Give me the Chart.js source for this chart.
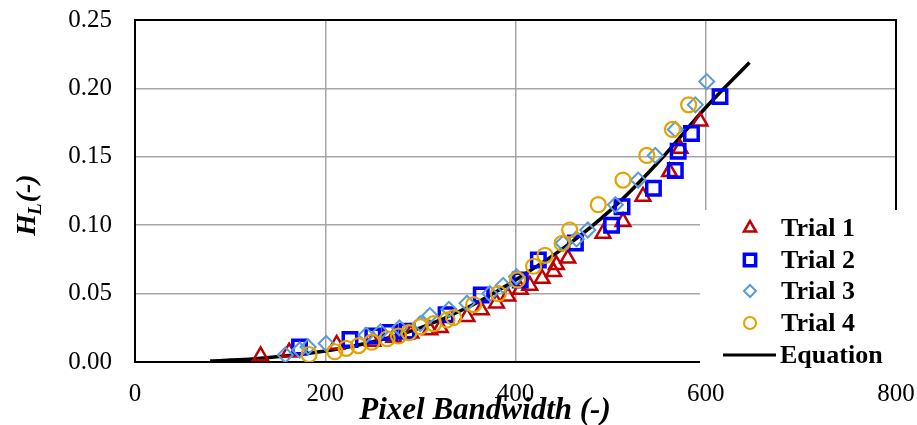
<!DOCTYPE html>
<html>
<head>
<meta charset="utf-8">
<script src="https://cdn.jsdelivr.net/npm/chart.js@4/dist/chart.umd.min.js"></script>
<style>
  html, body { margin: 0; padding: 0; background: #fff; }
  #wrap { width: 917px; height: 425px; position: relative; }
</style>
</head>
<body>
<div id="wrap"><canvas id="chart" width="917" height="425"></canvas></div>
<script>
// values
const xTicks = [0, 200, 400, 600, 800];
const yTicks = [0, 0.05, 0.10, 0.15, 0.20, 0.25];

const trial1X = [132, 162, 212, 250, 272, 290, 310, 321, 349, 364, 380, 392, 405, 415, 428, 440, 443, 455, 492, 513, 534, 562, 573, 594];
const trial1Y = [0.0044, 0.0072, 0.0128, 0.0150, 0.0180, 0.0210, 0.0234, 0.0250, 0.0330, 0.0380, 0.0430, 0.0480, 0.0530, 0.0560, 0.0610, 0.0660, 0.0710, 0.0758, 0.0940, 0.1026, 0.1210, 0.1390, 0.1560, 0.1760];

const trial2X = [173, 226, 250, 268, 286, 327, 364, 405, 424, 463, 501, 512, 545, 568, 571, 585, 615];
const trial2Y = [0.0110, 0.0165, 0.0190, 0.0215, 0.0225, 0.0345, 0.0490, 0.0600, 0.0746, 0.0870, 0.1000, 0.1135, 0.1270, 0.1400, 0.1540, 0.1670, 0.1940];

const trial3X = [158, 173, 182, 201, 243, 258, 278, 300, 310, 330, 349, 373, 387, 401, 450, 464, 476, 505, 529, 547, 568, 589, 601];
const trial3Y = [0.0051, 0.0088, 0.0110, 0.0135, 0.0197, 0.0220, 0.0250, 0.0280, 0.0340, 0.0385, 0.0430, 0.0500, 0.0560, 0.0624, 0.0868, 0.0900, 0.0965, 0.1150, 0.1330, 0.1510, 0.1700, 0.1880, 0.2050];

const trial4X = [183, 210, 222, 235, 249, 265, 277, 288, 300, 314, 328, 335, 356, 382, 402, 419, 431, 449, 457, 487, 513, 538, 565, 582];
const trial4Y = [0.0055, 0.0075, 0.0100, 0.0120, 0.0145, 0.0170, 0.0190, 0.0215, 0.0258, 0.0280, 0.0307, 0.0325, 0.0420, 0.0500, 0.0600, 0.0700, 0.0780, 0.0868, 0.0965, 0.1150, 0.1330, 0.1510, 0.1700, 0.1880];

const equationX = [79, 120, 160, 200, 250, 300, 350, 400, 450, 500, 550, 600, 646];
const equationY = [0.0008, 0.0020, 0.0045, 0.0080, 0.0148, 0.0250, 0.0400, 0.0600, 0.0830, 0.1110, 0.1460, 0.1860, 0.2190];

const seriesNames = ["Trial 1", "Trial 2", "Trial 3", "Trial 4", "Equation"];

const SERIF = '"Liberation Serif", "Times New Roman", serif';
const zip = (xs, ys) => xs.map((x, i) => ({ x, y: ys[i] }));

const styles = [
    { color: "#C00000", pointStyle: "triangle", radius: 8.5, width: 2.5 },
    { color: "#0000FF", pointStyle: "rect", radius: 9.5, width: 3.5 },
    { color: "#5B9BD5", pointStyle: "rectRot", radius: 7.5, width: 2 },
    { color: "#E3A300", pointStyle: "circle", radius: 7.5, width: 2.2 },
];

// marker drawing for the legend (mirrors the chart point styles)
function drawMarker(ctx, style, x, y, r) {
    ctx.save();
    ctx.strokeStyle = style.color;
    ctx.lineWidth = style.width;
    ctx.beginPath();
    if (style.pointStyle === "triangle") {
        for (let k = 0; k < 3; k++) {
            const a = -Math.PI / 2 + k * 2 * Math.PI / 3;
            const px = x + Math.cos(a) * r, py = y + Math.sin(a) * r;
            k ? ctx.lineTo(px, py) : ctx.moveTo(px, py);
        }
        ctx.closePath();
    } else if (style.pointStyle === "rect") {
        const s = r * Math.SQRT1_2;
        ctx.rect(x - s, y - s, 2 * s, 2 * s);
    } else if (style.pointStyle === "rectRot") {
        ctx.moveTo(x - r, y); ctx.lineTo(x, y - r); ctx.lineTo(x + r, y); ctx.lineTo(x, y + r);
        ctx.closePath();
    } else {
        ctx.arc(x, y, r, 0, Math.PI * 2);
    }
    ctx.stroke();
    ctx.restore();
}

const decorPlugin = {
    id: "decor",
    beforeDatasetsDraw(chart) {
        const { ctx, chartArea: a } = chart;
        ctx.save();
        ctx.strokeStyle = "#000";
        ctx.lineWidth = 2;
        ctx.strokeRect(a.left, a.top, a.right - a.left, a.bottom - a.top);
        ctx.restore();
    },
    afterDraw(chart) {
        const ctx = chart.ctx;
        ctx.save();
        // legend box (covers the plot corner like the original)
        ctx.fillStyle = "#fff";
        ctx.fillRect(700, 210, 217, 168);
        const rows = [228, 260, 291, 323, 355];
        ctx.font = "bold 26px " + SERIF;
        ctx.fillStyle = "#000";
        ctx.textBaseline = "middle";
        ctx.textAlign = "left";
        rows.forEach((ry, i) => {
            if (i < 4) {
                drawMarker(ctx, styles[i], 750, ry, styles[i].radius - 1.5);
            } else {
                ctx.strokeStyle = "#000";
                ctx.lineWidth = 3;
                ctx.beginPath();
                ctx.moveTo(723, ry);
                ctx.lineTo(776, ry);
                ctx.stroke();
            }
            ctx.fillText(seriesNames[i], i < 4 ? 781 : 780, ry + 1);
        });

        // x axis title
        ctx.font = "italic bold 31px " + SERIF;
        ctx.textAlign = "center";
        ctx.textBaseline = "alphabetic";
        ctx.fillText("Pixel Bandwidth (-)", 485, 419);

        // y axis title with subscript
        ctx.translate(35, 205);
        ctx.rotate(-Math.PI / 2);
        const big = "italic bold 28px " + SERIF, small = "italic bold 19px " + SERIF;
        ctx.font = big; const wH = ctx.measureText("H").width;
        ctx.font = small; const wL = ctx.measureText("L").width;
        ctx.font = big; const wP = ctx.measureText("(-)").width;
        let x0 = -(wH + wL + wP) / 2;
        ctx.textAlign = "left";
        ctx.font = big; ctx.fillText("H", x0, 0);
        ctx.font = small; ctx.fillText("L", x0 + wH - 1, 6);
        ctx.font = big; ctx.fillText("(-)", x0 + wH + wL, 0);
        ctx.restore();
    },
};

const datasets = [0, 1, 2, 3].map(i => ({
    label: seriesNames[i],
    data: zip([trial1X, trial2X, trial3X, trial4X][i], [trial1Y, trial2Y, trial3Y, trial4Y][i]),
    pointStyle: styles[i].pointStyle,
    pointRadius: styles[i].radius,
    pointBorderWidth: styles[i].width,
    borderColor: styles[i].color,
    backgroundColor: "rgba(0,0,0,0)",
    pointBackgroundColor: "rgba(0,0,0,0)",
    showLine: false,
    order: 4 - i,
}));
datasets.push({
    label: seriesNames[4],
    data: zip(equationX, equationY),
    showLine: true,
    borderColor: "#000",
    borderWidth: 3.5,
    pointRadius: 0,
    cubicInterpolationMode: "monotone",
    order: 5,
});

new Chart(document.getElementById("chart"), {
    type: "scatter",
    data: { datasets },
    options: {
        responsive: false,
        animation: false,
        layout: { padding: { top: 20, right: 21, left: 0, bottom: 0 } },
        plugins: { legend: { display: false }, tooltip: { enabled: false } },
        scales: {
            x: {
                type: "linear", min: 0, max: 800,
                afterBuildTicks: (s) => { s.ticks = xTicks.map(v => ({ value: v })); },
                afterFit: (s) => { s.height = 63; s.paddingLeft = 0; s.paddingRight = 0; },
                grid: { color: "#A6A6A6", lineWidth: 1.5, drawTicks: false },
                border: { display: false },
                ticks: { padding: 17, color: "#000", font: { family: SERIF, size: 25 }, maxRotation: 0 },
            },
            y: {
                type: "linear", min: 0, max: 0.25,
                afterBuildTicks: (s) => { s.ticks = yTicks.map(v => ({ value: v })); },
                afterFit: (s) => { s.width = 135; s.paddingTop = 0; s.paddingBottom = 0; },
                grid: { color: "#A6A6A6", lineWidth: 1.5, drawTicks: false },
                border: { display: false },
                ticks: { padding: 23, color: "#000", font: { family: SERIF, size: 25 }, callback: (v) => v.toFixed(2) },
            },
        },
    },
    plugins: [decorPlugin],
});
</script>
</body>
</html>
